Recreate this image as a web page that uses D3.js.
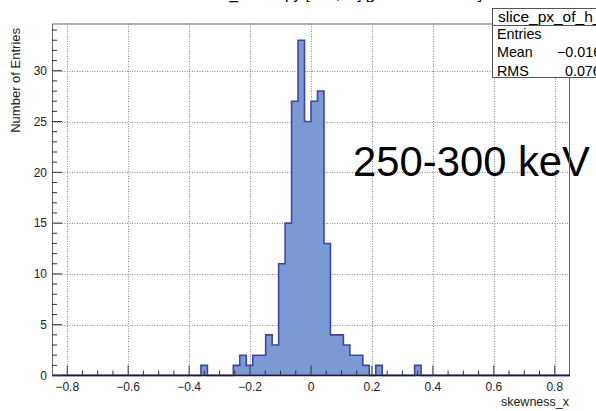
<!DOCTYPE html>
<html>
<head>
<meta charset="utf-8">
<script src="https://cdn.jsdelivr.net/npm/d3@7"></script>
<style>
  html, body { margin: 0; padding: 0; background: #fff; }
  svg { display: block; }
  text { font-family: "Liberation Sans", Arial, Helvetica, sans-serif; }
</style>
</head>
<body>
<script>
// ---------------- data ----------------
const histName = "slice_px_of_h";
const histTitle = "skewness_x slice py [\u221210,10] [y : 250-300 keV]";
const xTitle = "skewness_x";
const yTitle = "Number of Entries";
const overlayLabel = "250-300 keV";
const xMin = -0.85, xMax = 0.85;
const counts = [
  0,0,0,0,0,0,0,0,0,0, 0,0,0,0,0,0,0,0,0,0,
  0,0,0,1,0,0,0,0,1,2, 1,2,2,4,3,11,15,27,33,25,
  27,28,13,4,4,3,2,2,1,0, 1,0,0,0,0,0,1,0,0,0,
  0,0,0,0,0,0,0,0,0,0, 0,0,0,0,0,0,0,0,0,0
];
const xTicks = [-0.8, -0.6, -0.4, -0.2, 0, 0.2, 0.4, 0.6, 0.8];
const xTickLabels = ["\u22120.8", "\u22120.6", "\u22120.4", "\u22120.2", "0", "0.2", "0.4", "0.6", "0.8"];
const yTicks = [0, 5, 10, 15, 20, 25, 30];

(function draw() {
const W = 596, H = 411;
const pL = 52, pR = 570, pT = 23.5, pB = 375.5;
const nBins = counts.length;
const bw = (xMax - xMin) / nBins;
const edges = d3.range(nBins + 1).map(i => xMin + i * bw);
const yMax = d3.max(counts) * 1.05;

const x = d3.scaleLinear().domain([xMin, xMax]).range([pL, pR]);
const y = d3.scaleLinear().domain([0, yMax]).range([pB, pT]);

const svg = d3.select("body").append("svg").attr("width", W).attr("height", H);

// title (mostly cut off at top, as in the reference)
svg.append("text").attr("x", 322).attr("y", -1)
  .attr("text-anchor", "middle").attr("font-size", 17)
  .attr("textLength", 320).attr("lengthAdjust", "spacingAndGlyphs")
  .text(histTitle);

// grid
const grid = svg.append("g").attr("stroke", "#8a8a8a").attr("stroke-width", 1)
  .attr("stroke-dasharray", "1,1.5");
grid.selectAll("line.gx").data(xTicks).join("line")
  .attr("x1", d => Math.round(x(d)) + 0.5).attr("x2", d => Math.round(x(d)) + 0.5)
  .attr("y1", pT).attr("y2", pB);
grid.selectAll("line.gy").data(yTicks.filter(d => d > 0)).join("line")
  .attr("y1", d => Math.round(y(d)) + 0.5).attr("y2", d => Math.round(y(d)) + 0.5)
  .attr("x1", pL).attr("x2", pR);

// histogram fill
const pts = counts.map((c, i) => [edges[i], c]);
pts.push([edges[nBins], counts[nBins - 1]]);
const area = d3.area().curve(d3.curveStepAfter)
  .x(d => x(d[0])).y0(y(0)).y1(d => y(d[1]));
svg.append("path").attr("d", area(pts)).attr("fill", "#7b9ad3");
// histogram outline
const stepPts = [[edges[0], 0]];
counts.forEach((c, i) => { stepPts.push([edges[i], c]); stepPts.push([edges[i + 1], c]); });
stepPts.push([edges[nBins], 0]);
svg.append("path")
  .attr("d", d3.line().x(d => x(d[0])).y(d => y(d[1]))(stepPts))
  .attr("fill", "none").attr("stroke", "#3b46ad").attr("stroke-width", 1.6)
  .attr("stroke-linejoin", "miter");

// overlay label
svg.append("text").attr("x", 353).attr("y", 176)
  .attr("font-family", "Lato, 'Open Sans', sans-serif")
  .attr("font-size", 43).attr("fill", "#000")
  .attr("textLength", 237).attr("lengthAdjust", "spacingAndGlyphs")
  .text(overlayLabel);

// frame
svg.append("rect").attr("x", pL + 0.5).attr("y", pT + 0.5)
  .attr("width", pR - pL - 1).attr("height", pB - pT - 1)
  .attr("fill", "none").attr("stroke", "#666").attr("stroke-width", 1);

// x axis
const xa = svg.append("g");
xa.append("line").attr("x1", pL).attr("x2", pR).attr("y1", pB).attr("y2", pB)
  .attr("stroke", "#1a1a40").attr("stroke-width", 1.3);
const xMinor = d3.range(-0.8, 0.801, 0.05);
xa.selectAll("line.mn").data(xMinor).join("line")
  .attr("x1", d => x(d)).attr("x2", d => x(d))
  .attr("y1", pB).attr("y2", d => pB - (xTicks.some(t => Math.abs(t - d) < 1e-6) ? 10 : 5))
  .attr("stroke", "#333").attr("stroke-width", 1);
xa.selectAll("text").data(xTicks).join("text")
  .attr("x", d => x(d)).attr("y", 391).attr("text-anchor", "middle")
  .attr("font-size", 12).attr("fill", "#222")
  .text((d, i) => xTickLabels[i]);
svg.append("text").attr("x", 569).attr("y", 406).attr("text-anchor", "end")
  .attr("font-size", 12.5).attr("fill", "#222").text(xTitle);

// y axis
const ya = svg.append("g");
ya.append("line").attr("x1", pL).attr("x2", pL).attr("y1", pT).attr("y2", pB)
  .attr("stroke", "#222").attr("stroke-width", 1.2);
const yMinor = d3.range(0, Math.floor(yMax) + 1, 1);
ya.selectAll("line").data(yMinor).join("line")
  .attr("y1", d => y(d)).attr("y2", d => y(d))
  .attr("x1", pL).attr("x2", d => pL + (d % 5 === 0 ? 10 : 5))
  .attr("stroke", "#333").attr("stroke-width", 1);
ya.selectAll("text").data(yTicks).join("text")
  .attr("x", 47).attr("y", d => y(d) + 4.2).attr("text-anchor", "end")
  .attr("font-size", 12).attr("fill", "#222").text(d => d);
svg.append("text").attr("transform", "translate(20,28) rotate(-90)")
  .attr("text-anchor", "end").attr("font-size", 13).attr("fill", "#222").text(yTitle);

// stats box
const centers = edges.slice(0, nBins).map(e => e + bw / 2);
const entries = d3.sum(counts);
const mean = d3.sum(counts.map((c, i) => c * centers[i])) / entries;
const rms = Math.sqrt(d3.sum(counts.map((c, i) => c * (centers[i] - mean) ** 2)) / entries);
const fmt = v => (v < 0 ? "\u2212" : "") + Math.abs(v).toFixed(5);
const sb = svg.append("g");
sb.append("rect").attr("x", 492.5).attr("y", 8.5).attr("width", 140).attr("height", 69)
  .attr("fill", "#fff").attr("stroke", "#555").attr("stroke-width", 1);
sb.append("line").attr("x1", 492.5).attr("x2", 640).attr("y1", 25.5).attr("y2", 25.5)
  .attr("stroke", "#555").attr("stroke-width", 1);
sb.append("text").attr("x", 498).attr("y", 21.5).attr("font-size", 15.5).text(histName + "_250_300");
const rows = [["Entries", String(entries), 640], ["Mean", fmt(mean), 557], ["RMS", fmt(rms), 565]];
rows.forEach((r, i) => {
  sb.append("text").attr("x", 497).attr("y", 38.5 + i * 18.6).attr("font-size", 14.3).text(r[0]);
  sb.append("text").attr("x", r[2]).attr("y", 38.5 + i * 18.6).attr("font-size", 14.3).text(r[1]);
});
})();
</script>
</body>
</html>
